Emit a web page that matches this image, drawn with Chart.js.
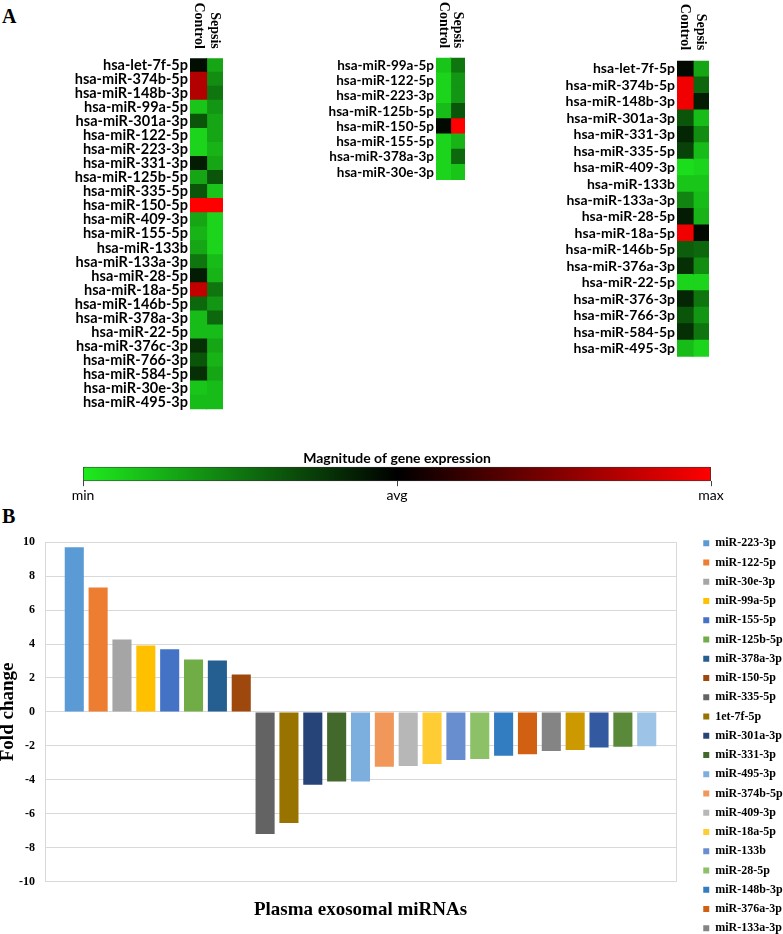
<!DOCTYPE html>
<html><head><meta charset="utf-8">
<script src="https://cdn.jsdelivr.net/npm/chart.js@4.4.1/dist/chart.umd.min.js"></script>
<style>
html,body{margin:0;padding:0;background:#fff;}
#fig{position:relative;width:783px;height:934px;overflow:hidden;background:#fff;}
canvas{position:absolute;}
.panel{position:absolute;font-family:'Liberation Serif','Times New Roman',serif;font-weight:bold;font-size:20px;line-height:1;color:#000;}
</style></head><body>
<div id="fig">
<div class="panel" style="left:2px;top:6px">A</div>
<div class="panel" style="left:2px;top:506px">B</div>
<canvas id="hm1" width="230" height="420" style="left:0;top:0"></canvas>
<canvas id="hm2" width="170" height="190" style="left:300px;top:0"></canvas>
<canvas id="hm3" width="200" height="370" style="left:520px;top:0"></canvas>
<canvas id="cbar" width="720" height="65" style="left:40px;top:440px"></canvas>
<canvas id="bars" width="786" height="520" style="left:0;top:525px"></canvas>
</div>
<script>
// ---------- DATA ----------
const columns = ['Control', 'Sepsis'];

// magnitude of expression: 0 = min, 50 = avg, 100 = max
const hm1Names = ['hsa-let-7f-5p','hsa-miR-374b-5p','hsa-miR-148b-3p','hsa-miR-99a-5p','hsa-miR-301a-3p','hsa-miR-122-5p','hsa-miR-223-3p','hsa-miR-331-3p','hsa-miR-125b-5p','hsa-miR-335-5p','hsa-miR-150-5p','hsa-miR-409-3p','hsa-miR-155-5p','hsa-miR-133b','hsa-miR-133a-3p','hsa-miR-28-5p','hsa-miR-18a-5p','hsa-miR-146b-5p','hsa-miR-378a-3p','hsa-miR-22-5p','hsa-miR-376c-3p','hsa-miR-766-3p','hsa-miR-584-5p','hsa-miR-30e-3p','hsa-miR-495-3p'];
const hm1Control = [47,85,85,8,32,5,5,44,15,32,100,15,12,15,25,44,88,28,10,10,40,32,40,8,10];
const hm1Sepsis  = [15,20,25,18,15,15,12,15,32,8,100,5,5,5,10,12,25,18,28,10,15,12,15,10,10];

const hm2Names = ['hsa-miR-99a-5p','hsa-miR-122-5p','hsa-miR-223-3p','hsa-miR-125b-5p','hsa-miR-150-5p','hsa-miR-155-5p','hsa-miR-378a-3p','hsa-miR-30e-3p'];
const hm2Control = [8,5,5,10,48,5,5,5];
const hm2Sepsis  = [25,18,18,32,100,12,28,8];

const hm3Names = ['hsa-let-7f-5p','hsa-miR-374b-5p','hsa-miR-148b-3p','hsa-miR-301a-3p','hsa-miR-331-3p','hsa-miR-335-5p','hsa-miR-409-3p','hsa-miR-133b','hsa-miR-133a-3p','hsa-miR-28-5p','hsa-miR-18a-5p','hsa-miR-146b-5p','hsa-miR-376a-3p','hsa-miR-22-5p','hsa-miR-376-3p','hsa-miR-766-3p','hsa-miR-584-5p','hsa-miR-495-3p'];
const hm3Control = [48,97,97,32,42,36,3,8,22,44,97,30,40,5,42,32,40,10];
const hm3Sepsis  = [15,28,44,10,20,10,5,8,10,12,48,28,20,5,25,18,25,5];

const cbTicks = [-1, 0, 1];
const cbLabels = ['min', 'avg', 'max'];
const cbTitle = 'Magnitude of gene expression';

const barNames = ['miR-223-3p','miR-122-5p','miR-30e-3p','miR-99a-5p','miR-155-5p','miR-125b-5p','miR-378a-3p','miR-150-5p','miR-335-5p','1et-7f-5p','miR-301a-3p','miR-331-3p','miR-495-3p','miR-374b-5p','miR-409-3p','miR-18a-5p','miR-133b','miR-28-5p','miR-148b-3p','miR-376a-3p','miR-133a-3p','miR-146b-5p','miR-376c-3p','miR-766-3p','miR-584-5p'];
const foldChange = [9.7,7.33,4.26,3.92,3.69,3.09,3.03,2.2,-7.2,-6.55,-4.29,-4.1,-4.1,-3.23,-3.19,-3.07,-2.84,-2.78,-2.59,-2.49,-2.3,-2.25,-2.1,-2.05,-2.03];
const barColors = ['#5B9BD5','#ED7D31','#A5A5A5','#FFC000','#4472C4','#70AD47','#255E91','#9E480E','#636363','#997300','#264478','#43682B','#7CAFDD','#F1975A','#B7B7B7','#FFCD33','#698ED0','#8CC168','#327DC2','#D26012','#848484','#CC9A00','#335AA1','#5A8A39','#9DC3E6'];
const yTickMin = -10, yTickMax = 10, yTickStep = 2;

// ---------- STYLE ----------
const SERIF = "'Liberation Serif','Times New Roman',serif";
const SANS = "Lato,'Liberation Sans',sans-serif";
Chart.defaults.color = '#000';
Chart.defaults.font.family = SANS;

const C_MIN = [30,235,30], C_AVG = [0,0,0], C_MAX = [255,0,0];
function colorFor(v){
  const t = v/100; let a, b, f;
  if (t < 0.5){ a = C_MIN; b = C_AVG; f = t/0.5; } else { a = C_AVG; b = C_MAX; f = (t-0.5)/0.5; }
  const c = a.map((x,i)=>Math.round(x + (b[i]-x)*f));
  return 'rgb(' + c.join(',') + ')';
}

const headerPlugin = {
  id: 'colHeaders',
  afterDraw(chart, args, opts){
    const {ctx, chartArea} = chart;
    const xs = chart.scales.x;
    ctx.save();
    ctx.font = opts.font;
    ctx.fillStyle = '#000';
    ctx.textAlign = 'right';
    ctx.textBaseline = 'middle';
    columns.forEach((lab, i) => {
      ctx.save();
      ctx.translate(xs.getPixelForValue(i + 0.5), chartArea.top - opts.gap);
      ctx.rotate(Math.PI/2);
      ctx.fillText(lab, 0, 0);
      ctx.restore();
    });
    ctx.restore();
  }
};

function makeHeatmap(id, names, ctrl, seps, cfg){
  new Chart(document.getElementById(id), {
    type: 'bar',
    data: {
      labels: names,
      datasets: [
        { label: columns[0], data: names.map(()=>[0,1]), backgroundColor: ctrl.map(colorFor) },
        { label: columns[1], data: names.map(()=>[1,2]), backgroundColor: seps.map(colorFor) }
      ]
    },
    options: {
      indexAxis: 'y', responsive: false, animation: false,
      layout: { padding: { top: cfg.top, right: cfg.right, bottom: cfg.bottom, left: 0 } },
      datasets: { bar: { grouped: false, barPercentage: 1, categoryPercentage: 1, borderWidth: 0, inflateAmount: 0.6 } },
      plugins: {
        legend: { display: false }, tooltip: { enabled: false },
        colHeaders: { font: 'bold 14px ' + SERIF, gap: cfg.gap }
      },
      scales: {
        x: { type: 'linear', min: 0, max: 2, display: false },
        y: {
          ticks: { autoSkip: false, padding: 2, color: '#000', font: { family: SANS, weight: 'bold', size: cfg.font } },
          grid: { display: false, drawTicks: false }, border: { display: false },
          afterFit(s){ s.width = cfg.yw; }
        }
      }
    },
    plugins: [headerPlugin]
  });
}
makeHeatmap('hm1', hm1Names, hm1Control, hm1Sepsis, { top: 58.3, right: 7, bottom: 3.3, yw: 190, font: 14.5, gap: 9.5 });
makeHeatmap('hm2', hm2Names, hm2Control, hm2Sepsis, { top: 57.7, right: 5, bottom: 10, yw: 136, font: 13.5, gap: 9.5 });
makeHeatmap('hm3', hm3Names, hm3Control, hm3Sepsis, { top: 60.7, right: 11, bottom: 13.3, yw: 157, font: 14, gap: 10.5 });

// ---------- COLOR BAR ----------
new Chart(document.getElementById('cbar'), {
  type: 'bar',
  data: { labels: [''], datasets: [{
    data: [[cbTicks[0], cbTicks[cbTicks.length-1]]],
    backgroundColor(ctx){
      const ch = ctx.chart, a = ch.chartArea;
      if (!a) return colorFor(50);
      const g = ch.ctx.createLinearGradient(a.left, 0, a.right, 0);
      g.addColorStop(0, colorFor(0)); g.addColorStop(0.5, colorFor(50)); g.addColorStop(1, colorFor(100));
      return g;
    },
    borderColor: '#333', borderWidth: 1, borderSkipped: false, barPercentage: 1, categoryPercentage: 1
  }]},
  options: {
    indexAxis: 'y', responsive: false, animation: false,
    layout: { padding: { left: 43, right: 49, top: 0, bottom: 0 } },
    plugins: {
      legend: { display: false }, tooltip: { enabled: false },
      title: { display: true, text: cbTitle, color: '#000', font: { family: SANS, weight: 'bold', size: 14 }, padding: { top: 10, bottom: 0 } }
    },
    scales: {
      y: { display: false },
      x: {
        type: 'linear', min: cbTicks[0], max: cbTicks[cbTicks.length-1],
        afterBuildTicks(s){ s.ticks = cbTicks.map(v=>({ value: v })); },
        ticks: { autoSkip: false, maxRotation: 0, padding: 1, color: '#000', font: { family: SANS, size: 14 }, callback: (v, i) => cbLabels[i] },
        grid: { drawOnChartArea: false, drawTicks: true, tickLength: 5, color: '#444' },
        border: { display: false }
      }
    }
  }
});

// ---------- BAR CHART ----------
new Chart(document.getElementById('bars'), {
  type: 'bar',
  data: {
    labels: [''],
    datasets: barNames.map((n, i) => ({
      label: n, data: [foldChange[i]], backgroundColor: barColors[i], borderWidth: 0,
      categoryPercentage: 0.945, barPercentage: 0.8
    }))
  },
  options: {
    responsive: false, animation: false,
    layout: { padding: { top: 16, left: 0, right: 0, bottom: 0 } },
    plugins: {
      tooltip: { enabled: false },
      legend: {
        position: 'right', align: 'start', maxWidth: 90,
        labels: { boxWidth: 6, boxHeight: 6, padding: 7.25, color: '#000', font: { family: SERIF, weight: 'bold', size: 12 } }
      }
    },
    scales: {
      x: {
        ticks: { display: false }, grid: { display: false }, border: { display: false },
        title: { display: true, text: 'Plasma exosomal miRNAs', color: '#000', font: { family: SERIF, weight: 'bold', size: 19 }, padding: { top: 8.6, bottom: 124 } }
      },
      y: {
        min: yTickMin, max: yTickMax,
        ticks: { stepSize: yTickStep, padding: 10, color: '#000', font: { family: SERIF, weight: 'bold', size: 12 } },
        grid: { color: '#D9D9D9', drawTicks: false }, border: { color: '#D9D9D9' },
        title: { display: true, text: 'Fold change', color: '#000', font: { family: SERIF, weight: 'bold', size: 19, lineHeight: 0.85 }, padding: 0 },
        afterFit(s){ s.width = 45; }
      },
      y2: {
        type: 'linear', position: 'right',
        ticks: { display: false }, grid: { drawOnChartArea: false, drawTicks: false },
        border: { color: '#D9D9D9' },
        afterFit(s){ s.width = 20; }
      }
    }
  },
  plugins: [{ id: 'legendShift', afterLayout(chart){ chart.legend.top -= 11; chart.legend.bottom -= 11; } }]
});
</script>
</body></html>
